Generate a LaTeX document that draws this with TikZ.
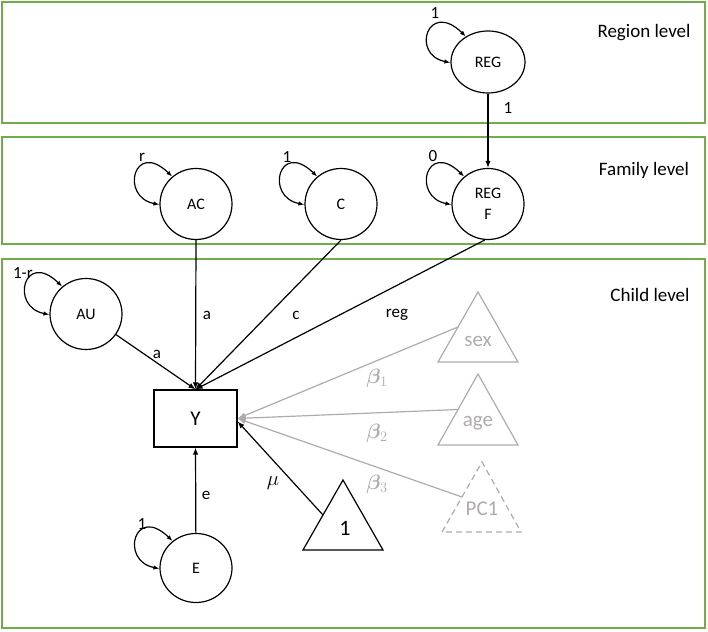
\documentclass[tikz,border=0pt]{standalone}
\usepackage{fontspec}
\setmainfont{Carlito}
\usepackage{bm}
\usetikzlibrary{arrows.meta,shapes.geometric}
\definecolor{boxgreen}{HTML}{70AD47}
\definecolor{lgray}{HTML}{AFABAB}
\tikzset{
  levelbox/.style={draw=boxgreen, line width=1.5pt},
  lvl/.style={font=\fontsize{19}{22}\selectfont, inner sep=0pt},
  latent/.style={draw, ellipse, line width=1.2pt, inner sep=0pt, minimum width=72pt, minimum height=71pt, font=\fontsize{16}{21}\selectfont, align=center},
  arr/.style={line width=1.2pt, -{Latex[length=7pt,width=5.5pt]}},
  looparr/.style={line width=1.2pt, {Latex[length=6pt,width=4.5pt]}-{Latex[length=6pt,width=4.5pt]}},
  garr/.style={draw=lgray, line width=1.2pt, -{Latex[length=8pt,width=6pt]}},
  btri/.style={draw, line width=1.2pt, line join=miter},
  gtri/.style={draw=lgray, line width=1.2pt},
  gtext/.style={text=lgray, font=\fontsize{21}{24}\selectfont, inner sep=0pt},
  elab/.style={font=\fontsize{17}{19}\selectfont, inner sep=0pt},
  blab/.style={text=lgray, font=\fontsize{20}{22}\selectfont, inner sep=0pt}
}
\begin{document}
\begin{tikzpicture}[x=1pt,y=1pt]
\useasboundingbox (0,0) rectangle (708,631);
% level boxes
\draw[levelbox] (2,508) rectangle (705,629);
\draw[levelbox] (2,387) rectangle (705,494);
\draw[levelbox] (2,3) rectangle (705,372);
\node[lvl] (lregion) at (644,598) {Region level};
\node[lvl] (lfamily) at (644,461) {Family level};
\node[lvl] (lchild) at (650,336) {Child level};
% latent nodes
\node[latent, minimum width=74pt, minimum height=62pt] (REG) at (488,569) {REG};
\node[latent] (AC) at (196,427) {AC};
\node[latent] (C) at (341,427) {C};
\node[latent] (REGF) at (488,427) {REG\\F};
\node[latent] (AU) at (86,317) {AU};
\node[latent, minimum height=69pt] (E) at (196,63) {E};
\node[draw, rectangle, line width=1.2pt, minimum width=83pt, minimum height=57pt, font=\fontsize{21}{24}\selectfont] (Y) at (195.5,212.5) {Y};
% variance loops
\foreach \n in {REG,AC,C,REGF,AU,E}{
  \draw[looparr] (\n.181) .. controls +(-40,8) and +(-38,37) .. (\n.131);
}
\node[elab] (lREG) at (435,618) {1};
\node[elab] (lAC) at (142,474) {r};
\node[elab] (lC) at (287,474) {1};
\node[elab] (lREGF) at (433,475) {0};
\node[elab] (lAU) at (23,358) {1-r};
\node[elab] (lE) at (142,107) {1};
% triangles
\draw[gtri] (438,269) -- (478,339) -- (518,269) -- cycle;
\node[gtext] (sex) at (478,290) {sex};
\coordinate (sexL) at (458,304);
\draw[gtri] (438,186) -- (478,257) -- (518,186) -- cycle;
\node[gtext] (age) at (478,208) {age};
\coordinate (ageL) at (458,221.5);
\draw[gtri, dashed, dash pattern=on 6pt off 4pt] (442,99) -- (482,169) -- (521,99) -- cycle;
\node[gtext] (pc) at (482,122) {PC1};
\coordinate (pcL) at (462,134);
\draw[btri] (303,81) -- (343,151) -- (383,81) -- cycle;
\node[font=\fontsize{22}{24}\selectfont, inner sep=0pt] (one) at (345,103) {1};
\coordinate (oneL) at (323,116);
% paths
\draw[arr] (REG) -- (REGF);
\node[elab] (l1) at (508,523) {1};
\draw[arr] (AC.south) -- (Y.north);
\draw[arr] (C.south) -- (Y.north);
\draw[arr] (REGF.265) -- (Y.north);
\draw[arr] (AU) -- (Y.north);
\draw[arr] (E) -- (Y.south);
\draw[garr] (sexL) -- (Y.east);
\draw[garr] (ageL) -- (Y.east);
\draw[garr] (pcL) -- (Y.east);
\draw[arr] (oneL) -- ([yshift=-3pt]Y.east);
\node[elab] (la1) at (207,316) {a};
\node[elab] (lc) at (296,316) {c};
\node[elab] (lreg) at (397,316) {reg};
\node[elab] (la2) at (157,277) {a};
\node[elab] (le) at (206,136) {e};
\node[font=\fontsize{20}{22}\selectfont, inner sep=0pt] (lmu) at (273,148) {$\mu$};
\node[blab] (b1) at (377,253) {$\bm{\beta}_1$};
\node[blab] (b2) at (377,198) {$\bm{\beta}_2$};
\node[blab] (b3) at (377,147) {$\bm{\beta}_3$};
\end{tikzpicture}
\end{document}
